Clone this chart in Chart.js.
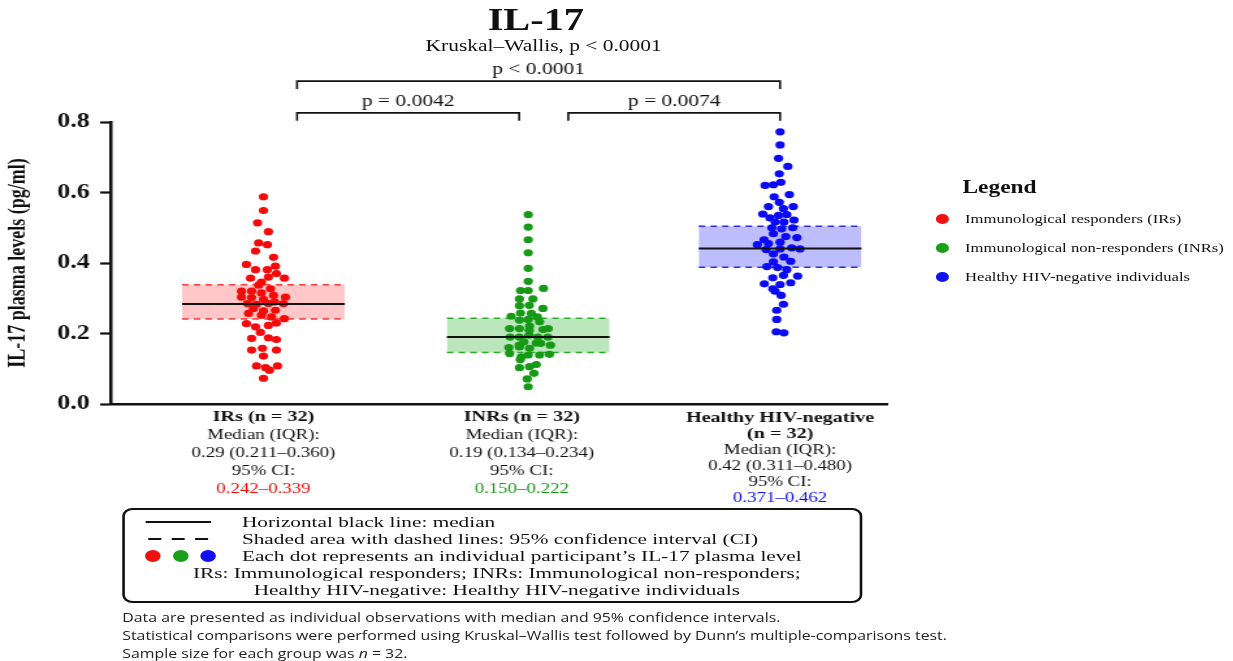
<!DOCTYPE html>
<html lang="en">
<head>
<meta charset="UTF-8">
<meta name="viewport" content="width=device-width, initial-scale=1.0">
<title>IL-17 plasma levels</title>
<script src="https://cdn.jsdelivr.net/npm/chart.js@4.4.2/dist/chart.umd.min.js"></script>
<style>
  html, body { margin: 0; padding: 0; background: #fff; overflow: hidden; }
  /* the original figure is stretched sideways, so draw narrow and widen it */
  #page {
    position: relative; width: 948px; height: 661px;
    transform: scaleX(1.3006); transform-origin: 0 0;
    font-family: 'Liberation Serif', 'Times New Roman', serif; color: #111;
  }
  #chart { position: absolute; left: 0; top: 0; }
  .t { position: absolute; white-space: nowrap; line-height: 1; transform: translateY(-50%); }
  .c { transform: translate(-50%, -50%); }
  #title { left: 412px; top: 19px; font-size: 31px; font-weight: bold; }
  #sub { left: 418px; top: 46px; font-size: 16.5px; }
  #legendTitle { left: 740px; top: 187px; font-size: 18px; font-weight: bold; }
  .leg { left: 742px; font-size: 12.8px; }
  #box { position: absolute; left: 94px; top: 508px; width: 565px; height: 91px;
         border: 2px solid #111; border-radius: 8px; }
  .bx { font-size: 15px; transform: translateY(-50%) scaleX(1.09); transform-origin: 0 50%; }
  .bx.c { transform: translate(-50%, -50%) scaleX(1.09); transform-origin: 50% 50%; }
  .note { left: 94px; font-family: 'Open Sans', sans-serif; font-size: 12.2px; color: #222; }
  #marks { position: absolute; left: 0; top: 0; }
</style>
</head>
<body>
<div id="page">
  <canvas id="chart" width="948" height="661"></canvas>

  <div class="t c" id="title">IL-17</div>
  <div class="t c" id="sub">Kruskal–Wallis, p &lt; 0.0001</div>

  <div class="t" id="legendTitle">Legend</div>
  <div class="t leg" style="top:219px">Immunological responders (IRs)</div>
  <div class="t leg" style="top:248px">Immunological non-responders (INRs)</div>
  <div class="t leg" style="top:277px">Healthy HIV-negative individuals</div>

  <div id="box"></div>
  <div class="t bx" style="left:186px;top:522px">Horizontal black line: median</div>
  <div class="t bx" style="left:186px;top:539px">Shaded area with dashed lines: 95% confidence interval (CI)</div>
  <div class="t bx" style="left:186px;top:556px">Each dot represents an individual participant’s IL-17 plasma level</div>
  <div class="t c bx" style="left:382px;top:573px">IRs: Immunological responders; INRs: Immunological non-responders;</div>
  <div class="t c bx" style="left:382px;top:590px">Healthy HIV-negative: Healthy HIV-negative individuals</div>

  <svg id="marks" width="948" height="661">
    <circle cx="724.6" cy="219" r="5" fill="#f01010"/>
    <circle cx="724.6" cy="248" r="5" fill="#18a018"/>
    <circle cx="724.6" cy="277" r="5" fill="#1010f0"/>
    <line x1="112" y1="522" x2="162.3" y2="522" stroke="#111" stroke-width="2"/>
    <line x1="114" y1="539" x2="161.4" y2="539" stroke="#111" stroke-width="1.8" stroke-dasharray="10 8"/>
    <circle cx="117.5" cy="556" r="6" fill="#f01010"/>
    <circle cx="139" cy="556" r="6" fill="#18a018"/>
    <circle cx="160" cy="556" r="6" fill="#1010f0"/>
  </svg>

  <div class="t note" style="top:618px">Data are presented as individual observations with median and 95% confidence intervals.</div>
  <div class="t note" style="top:636px">Statistical comparisons were performed using Kruskal–Wallis test followed by Dunn’s multiple-comparisons test.</div>
  <div class="t note" style="top:654px">Sample size for each group was <i>n</i> = 32.</div>
</div>

<script>
// group positions on the x axis (1 = IRs, 2 = INRs, 3 = Healthy)
const groupX = [1, 2.025, 3];
const groupColors = ['#f50a0a', '#169a16', '#0a0af5'];
const bandFill = ['rgba(255,0,0,0.22)', 'rgba(30,170,30,0.30)', 'rgba(40,40,255,0.30)'];
const bandLine = ['#ff3b3b', '#2ea82e', '#2a2ae6'];

// individual IL-17 values (pg/ml) and sideways swarm offsets
const irsVals = [0.588,0.549,0.514,0.489,0.457,0.452,0.434,0.416,0.396,0.381,0.381,0.391,0.357,0.346,0.360,
  0.370,0.357,0.337,0.327,0.320,0.320,0.315,0.308,0.303,0.302,0.303,0.297,0.285,0.283,0.285,0.290,0.285,
  0.271,0.264,0.266,0.252,0.247,0.242,0.257,0.228,0.230,0.219,0.223,0.203,0.186,0.188,0.183,0.153,0.158,
  0.153,0.136,0.108,0.103,0.096,0.108,0.073];
const irsJit = [0,0,-0.023,0.019,-0.019,0.015,-0.031,0.039,-0.066,-0.031,0.015,0.046,-0.050,-0.008,0.019,
  0.050,0.081,-0.019,0.027,-0.085,-0.046,-0.008,0.039,-0.085,-0.046,0.085,0,-0.062,-0.027,0.019,0.043,0.077,
  -0.039,0,0.046,-0.008,0.031,0.081,-0.058,-0.066,0.050,-0.031,0.019,-0.012,-0.046,0.019,0.050,-0.046,-0.004,
  0.050,0,-0.027,0.008,0.023,0.054,0];

const inrsVals = [0.537,0.502,0.466,0.429,0.385,0.348,0.322,0.322,0.328,0.298,0.298,0.279,0.280,0.271,0.258,
  0.257,0.249,0.238,0.240,0.247,0.233,0.214,0.214,0.221,0.211,0.190,0.190,0.195,0.190,0.190,0.176,0.173,
  0.160,0.162,0.158,0.172,0.167,0.143,0.134,0.139,0.139,0.141,0.103,0.106,0.112,0.087,0.071,0.049,0.214,
  0.126,0.209,0.167];
const inrsJit = [0,0,0,0,0,0,-0.030,0,0.059,-0.034,0.018,-0.034,0.004,0.057,-0.030,0.012,-0.066,-0.034,0,
  0.035,0.044,-0.072,-0.034,0.005,0.057,-0.070,-0.034,0.003,0.037,0.076,-0.017,0.031,-0.075,-0.034,0.005,
  0.048,0.086,-0.072,-0.027,0,0.044,0.082,-0.034,0.005,0.031,0.022,-0.004,0,0.077,-0.031,0.004,-0.035];

const healthyVals = [0.772,0.735,0.697,0.674,0.653,0.620,0.622,0.629,0.594,0.588,0.572,0.560,0.554,0.560,
  0.539,0.528,0.535,0.537,0.522,0.516,0.516,0.500,0.497,0.500,0.483,0.475,0.472,0.466,0.459,0.452,0.455,
  0.438,0.440,0.443,0.440,0.426,0.417,0.405,0.403,0.390,0.387,0.381,0.365,0.363,0.358,0.341,0.339,0.344,
  0.327,0.320,0.308,0.283,0.266,0.240,0.205,0.202];
const healthyJit = [0,0,-0.006,0.030,-0.003,-0.058,-0.026,0.003,0.036,-0.023,-0.003,-0.045,0.013,0.051,
  -0.067,-0.039,-0.006,0.026,0.054,-0.019,0.015,-0.032,0.006,0.049,-0.026,0.022,0.065,-0.062,0,-0.088,-0.045,
  -0.054,0,0.045,0.077,-0.026,0.015,0.041,-0.026,-0.051,-0.010,0.026,0.013,0.068,-0.028,-0.061,0,0.041,
  -0.028,-0.019,0.004,0.013,-0.013,-0.013,-0.015,0.015];

// median line and 95% CI band as drawn
const medians = [0.284, 0.190, 0.441];
const ciLow = [0.241, 0.146, 0.388];
const ciHigh = [0.338, 0.243, 0.504];

// text under each group
const groupNames = [['IRs (n = 32)'], ['INRs (n = 32)'], ['Healthy HIV-negative', '(n = 32)']];
const iqrText = ['0.29 (0.211–0.360)', '0.19 (0.134–0.234)', '0.42 (0.311–0.480)'];
const ciText = ['0.242–0.339', '0.150–0.222', '0.371–0.462'];

// pairwise comparisons: [from group, to group], bracket height, label
const bracketPairs = [[1.13, 1.99], [2.18, 3.0], [1.13, 3.0]];
const bracketLevels = [0.826, 0.826, 0.916];
const bracketText = ['p = 0.0042', 'p = 0.0074', 'p < 0.0001'];

const yTicks = [0, 0.2, 0.4, 0.6, 0.8];

const allVals = [irsVals, inrsVals, healthyVals];
const allJit = [irsJit, inrsJit, healthyJit];
const halfBand = 0.315;

const datasets = [];
for (let g = 0; g < 3; g++) {
  const gx = groupX[g];
  // CI band: upper edge filled down to lower edge
  datasets.push({
    type: 'line', order: 3,
    data: [{x: gx - halfBand, y: ciHigh[g]}, {x: gx + halfBand, y: ciHigh[g]}],
    borderColor: bandLine[g], borderWidth: 1.5, borderDash: [5, 4],
    backgroundColor: bandFill[g], fill: '+1', pointRadius: 0
  });
  datasets.push({
    type: 'line', order: 3,
    data: [{x: gx - halfBand, y: ciLow[g]}, {x: gx + halfBand, y: ciLow[g]}],
    borderColor: bandLine[g], borderWidth: 1.5, borderDash: [5, 4],
    fill: false, pointRadius: 0
  });
  // dots
  datasets.push({
    type: 'scatter', order: 1,
    data: allVals[g].map((v, i) => ({x: gx + allJit[g][i], y: v})),
    backgroundColor: groupColors[g], borderWidth: 0, pointRadius: 3.6
  });
  // median
  datasets.push({
    type: 'line', order: 0,
    data: [{x: gx - halfBand, y: medians[g]}, {x: gx + halfBand, y: medians[g]}],
    borderColor: '#111', borderWidth: 2, fill: false, pointRadius: 0
  });
}

// brackets with p values, and the summary text under each group
const annotate = {
  id: 'annotate',
  afterDraw(chart) {
    const {ctx, scales: {x, y}} = chart;
    ctx.save();
    ctx.textAlign = 'center';
    ctx.textBaseline = 'middle';
    ctx.strokeStyle = '#111';
    ctx.fillStyle = '#111';
    ctx.lineWidth = 1.6;
    ctx.font = '16.5px "Liberation Serif"';
    bracketPairs.forEach((pair, i) => {
      const x1 = x.getPixelForValue(pair[0]);
      const x2 = x.getPixelForValue(pair[1]);
      const yy = y.getPixelForValue(bracketLevels[i]);
      ctx.beginPath();
      ctx.moveTo(x1, yy + 8);
      ctx.lineTo(x1, yy);
      ctx.lineTo(x2, yy);
      ctx.lineTo(x2, yy + 8);
      ctx.stroke();
      ctx.fillText(bracketText[i], (x1 + x2) / 2, yy - 11);
    });

    groupNames.forEach((names, g) => {
      const cx = x.getPixelForValue(g + 1);
      const lines = names.map(n => [n, 'bold 15.5px "Liberation Serif"', '#111']);
      lines.push(['Median (IQR):', '14.5px "Liberation Serif"', '#111']);
      lines.push([iqrText[g], '14.5px "Liberation Serif"', '#111']);
      lines.push(['95% CI:', '14.5px "Liberation Serif"', '#111']);
      lines.push([ciText[g], '14.5px "Liberation Serif"', groupColors[g]]);
      const step = lines.length > 5 ? 16 : 18;
      const top = lines.length > 5 ? 418 : 417;
      lines.forEach((ln, k) => {
        ctx.font = ln[1];
        ctx.fillStyle = ln[2];
        ctx.fillText(ln[0], cx, top + k * step);
      });
    });
    ctx.restore();
  }
};

const serif = 'Liberation Serif';
new Chart(document.getElementById('chart'), {
  type: 'scatter',
  data: { datasets: datasets },
  options: {
    responsive: false,
    animation: false,
    layout: { padding: { top: 122, right: 266, left: 0, bottom: 0 } },
    plugins: { legend: { display: false }, tooltip: { enabled: false } },
    scales: {
      x: {
        type: 'linear', min: 0.408, max: 3.414,
        ticks: { display: false },
        grid: { display: true, drawOnChartArea: false, drawTicks: false },
        border: { color: '#111', width: 2.5 },
        afterFit: s => { s.height = 257; }
      },
      y: {
        min: 0, max: 0.8,
        afterBuildTicks: s => { s.ticks = yTicks.map(v => ({value: v})); },
        ticks: {
          callback: v => v.toFixed(1),
          font: { family: serif, size: 20, weight: 'bold' },
          color: '#111', padding: 8
        },
        grid: { drawOnChartArea: false, tickLength: 8, tickWidth: 2.2, tickColor: '#111' },
        border: { color: '#111', width: 2.5 },
        title: {
          display: true, text: 'IL-17 plasma levels (pg/ml)',
          font: { family: serif, size: 18, weight: 'bold' }, color: '#111',
          padding: { top: 4, bottom: 0 }
        },
        afterFit: s => { s.width = 85; }
      }
    }
  },
  plugins: [annotate]
});
</script>
</body>
</html>
